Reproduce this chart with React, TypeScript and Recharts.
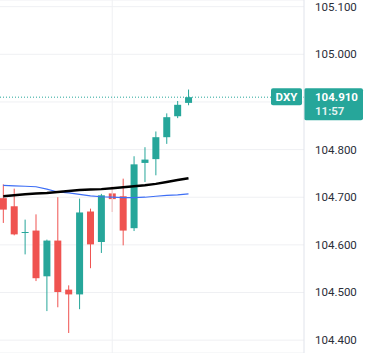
import React from 'react'
import {
  ComposedChart, Bar, Line, XAxis, YAxis, CartesianGrid, ReferenceLine,
} from 'recharts'

const UP = '#26a69a'
const DOWN = '#ef5350'
const GRID = '#eff0f3'

// 15m candles, oldest first
const opens = [104.698, 104.681, 104.625, 104.630, 104.534, 104.609, 104.506, 104.496, 104.670, 104.606, 104.708, 104.702, 104.635, 104.772, 104.780, 104.826, 104.870, 104.898]
const highs = [104.727, 104.718, 104.653, 104.664, 104.611, 104.700, 104.515, 104.697, 104.676, 104.707, 104.723, 104.739, 104.786, 104.805, 104.838, 104.876, 104.902, 104.926]
const lows = [104.646, 104.620, 104.580, 104.524, 104.461, 104.469, 104.415, 104.465, 104.551, 104.583, 104.669, 104.599, 104.629, 104.732, 104.746, 104.812, 104.866, 104.893]
const closes = [104.674, 104.622, 104.627, 104.530, 104.609, 104.501, 104.496, 104.668, 104.601, 104.704, 104.696, 104.630, 104.769, 104.779, 104.826, 104.868, 104.894, 104.910]

// moving averages
const maSlow = [104.702, 104.704, 104.706, 104.708, 104.709, 104.711, 104.713, 104.715, 104.716, 104.717, 104.719, 104.721, 104.723, 104.725, 104.728, 104.732, 104.736, 104.740]
const maFast = [104.725, 104.724, 104.723, 104.722, 104.717, 104.711, 104.709, 104.706, 104.703, 104.701, 104.700, 104.699, 104.699, 104.700, 104.702, 104.704, 104.705, 104.707]

const yTicks = [104.4, 104.5, 104.6, 104.7, 104.8, 104.9, 105.0, 105.1]
const symbol = 'DXY'
const lastPrice = 104.910
const countdown = '11:57'
const sessionBreak = 10

const data = opens.map((o, i) => ({
  i,
  open: o,
  high: highs[i],
  low: lows[i],
  close: closes[i],
  maSlow: maSlow[i],
  maFast: maFast[i],
}))

const FONT = 'Roboto, "Liberation Sans", sans-serif'

function Candle(props: any) {
  const { x, y, width, height, payload } = props
  const { open, close, high, low } = payload
  const color = close >= open ? UP : DOWN
  const top = Math.min(y, y + height)
  const h = Math.abs(height)
  const k = h / (high - low)
  const bodyTop = top + (high - Math.max(open, close)) * k
  const bodyBot = top + (high - Math.min(open, close)) * k
  const cx = x + width / 2
  return (
    <g>
      <line x1={cx} x2={cx} y1={top} y2={top + h} stroke={color} strokeWidth={1} />
      <rect x={x} y={bodyTop} width={width} height={Math.max(1, bodyBot - bodyTop)} fill={color} />
    </g>
  )
}

function PriceTick(props: any) {
  const { x, y, payload } = props
  // last price label sits on top of this one
  if (Math.abs(payload.value - 104.9) < 1e-6) return null
  return (
    <text x={x + 11} y={y} dy={4} textAnchor="start" fontSize={11.5} fill="#2a2e39" fontFamily={FONT}>
      {payload.value.toFixed(3)}
    </text>
  )
}

function LastPriceLabel(props: any) {
  const { viewBox } = props
  const right = viewBox.x + viewBox.width
  const y = viewBox.y
  return (
    <g fontFamily={FONT}>
      <rect x={right - 33} y={y - 9} width={31} height={17} rx={2} fill={UP} />
      <text x={right - 17.5} y={y} dy={4} textAnchor="middle" fontSize={11.5} fontWeight={700} fill="#fff">
        {symbol}
      </text>
      <rect x={right} y={y - 9} width={59} height={32} rx={2} fill={UP} />
      <text x={right + 11} y={y} dy={4} fontSize={11.5} fontWeight={700} fill="#fff">
        {lastPrice.toFixed(3)}
      </text>
      <text x={right + 11} y={y + 14} dy={4} fontSize={11.5} fontWeight={600} fill="#e6f4f2">
        {countdown}
      </text>
    </g>
  )
}

export default function App() {
  return (
    <div style={{ position: 'absolute', left: 0, top: 0, background: '#fff' }}>
      <ComposedChart width={367} height={353} data={data} margin={{ top: 0, right: 0, bottom: 0, left: 0 }}>
        <CartesianGrid stroke={GRID} vertical={false} />
        <XAxis dataKey="i" type="number" domain={[-0.3, 27.6]} allowDataOverflow hide />
        <YAxis
          orientation="right"
          width={63}
          domain={[104.373, 105.114]}
          allowDataOverflow
          ticks={yTicks}
          interval={0}
          tickLine={false}
          tickSize={0}
          tickMargin={0}
          axisLine={{ stroke: '#e0e3eb' }}
          tick={<PriceTick />}
        />
        <ReferenceLine x={sessionBreak} stroke={GRID} />
        <Line type="linear" dataKey="maFast" stroke="#3d6ef5" strokeWidth={1.2} dot={false} activeDot={false} isAnimationActive={false} />
        <Line type="linear" dataKey="maSlow" stroke="#000" strokeWidth={2.5} dot={false} activeDot={false} isAnimationActive={false} />
        <Bar
          dataKey={(d: any) => [d.low, d.high]}
          barSize={7}
          shape={<Candle />}
          isAnimationActive={false}
        />
        <ReferenceLine
          y={lastPrice}
          stroke={UP}
          strokeDasharray="1 2"
          label={<LastPriceLabel />}
        />
      </ComposedChart>
    </div>
  )
}
